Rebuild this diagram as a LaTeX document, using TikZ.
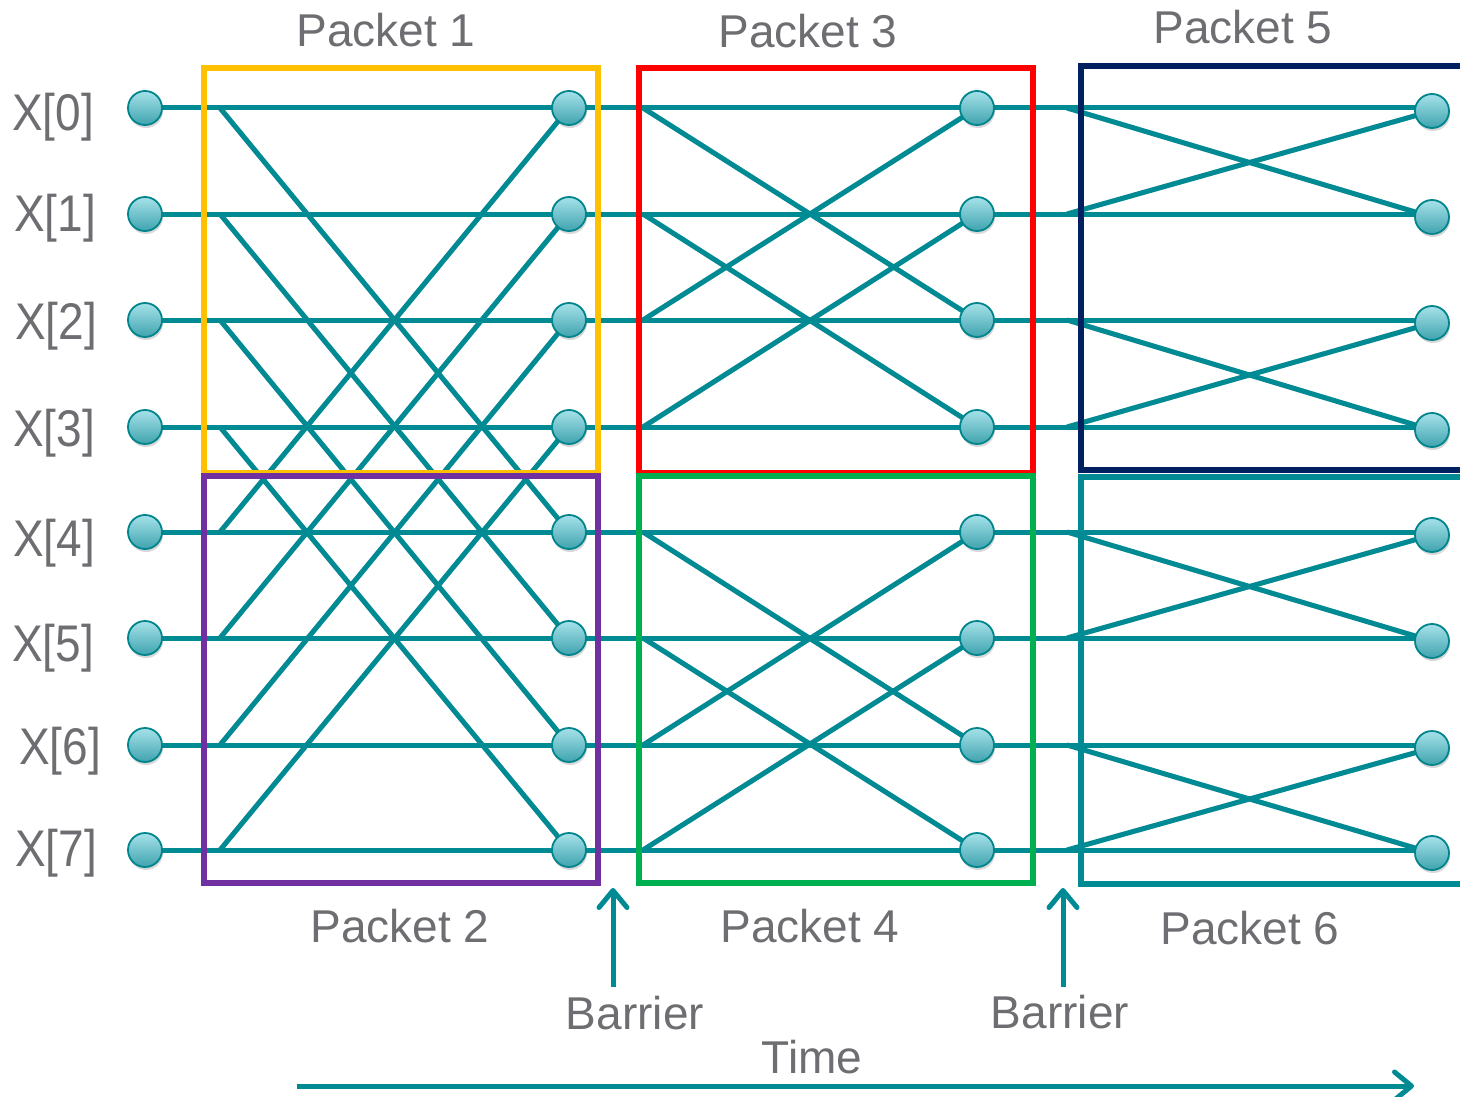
\documentclass[tikz,border=0pt]{standalone}
\usepackage{fontspec}
\setmainfont{Liberation Sans}
\usetikzlibrary{arrows.meta,shadows}
\pgfdeclarelayer{bg}
\pgfdeclarelayer{bgshadow}
\pgfsetlayers{bgshadow,bg,main}
\definecolor{tealc}{HTML}{008A93}
\definecolor{tealdk}{HTML}{00858D}
\definecolor{nodetop}{HTML}{A6E2EA}
\definecolor{nodebot}{HTML}{3FA3AE}
\definecolor{txtgray}{HTML}{6E6E72}
\definecolor{pk1}{HTML}{FFC000}
\definecolor{pk2}{HTML}{7030A0}
\definecolor{pk3}{HTML}{FF0000}
\definecolor{pk4}{HTML}{00B050}
\definecolor{pk5}{HTML}{002060}
\definecolor{pk6}{HTML}{008A93}
\begin{document}
\begin{tikzpicture}[x=1pt,y=-1pt,
  pt/.style={circle, minimum size=34pt, inner sep=0pt, draw=tealdk, line width=1.8pt,
    top color=nodetop, bottom color=nodebot,
    drop shadow={opacity=0.25, shadow xshift=1pt, shadow yshift=-3pt, fill=black!60}},
  wire/.style={draw=tealc, line width=5pt},
  wshadow/.style={draw=black, opacity=0.12, line width=5pt, yshift=-3pt},
  pbox/.style={line width=5.5pt},
  lbl/.style={text=txtgray, font=\fontsize{46}{50}\selectfont, inner sep=0pt, anchor=base},
  xlbl/.style={text=txtgray, font=\fontsize{46}{50}\selectfont, inner sep=0pt, anchor=base},
  tarrow/.style={draw=tealc, line width=5pt, -{Straight Barb[length=17pt,width=28pt,round]}}
]
\useasboundingbox (0,0) rectangle (1460,1097);
\begin{pgfonlayer}{bgshadow}
\fill[white] (0,0) rectangle (1460,1097);
\end{pgfonlayer}

% packet boxes
\draw[pbox, pk1] (204,68) rectangle (598,473);
\draw[pbox, pk2] (204,476) rectangle (598,883);
\draw[pbox, pk3] (639,68) rectangle (1033,473);
\draw[pbox, pk4] (639,476) rectangle (1033,883);
\draw[pbox, pk5] (1081,66) rectangle (1490,470);
\draw[pbox, pk6] (1081,477) rectangle (1490,884);

% nodes and start coordinates
\foreach \i/\y/\lx/\ly in {0/108/53/131,1/214/55/231,2/320/56/339,3/427/54/446,
                           4/532/54/556,5/638/53/661,6/745/60/764,7/850/56/866}{
  \node[pt] (L\i) at (145,\y) {};
  \node[pt] (A\i) at (569,\y) {};
  \node[pt] (B\i) at (977,\y) {};
  \node[pt] (C\i) at (1432,\y+3) {};
  \coordinate (s1\i) at (220,\y);
  \coordinate (s2\i) at (643,\y);
  \coordinate (s3\i) at (1067,\y);
  \node[xlbl] (X\i) at (\lx,\ly) {\scalebox{1}[1.12]{X[\i]}};
}

\foreach \ly/\sty in {bgshadow/wshadow, bg/wire}{
\begin{pgfonlayer}{\ly}
  \foreach \i in {0,...,7}{
    \draw[\sty] (L\i.center) -- (A\i.center) -- (B\i.center) -- (C\i.center |- L\i.center);
  }
  \foreach \i/\j in {0/4,1/5,2/6,3/7,4/0,5/1,6/2,7/3}{
    \draw[\sty] (s1\i) -- (A\j.center);
  }
  \foreach \i/\j in {0/2,1/3,2/0,3/1,4/6,5/7,6/4,7/5}{
    \draw[\sty] (s2\i) -- (B\j.center);
  }
  \foreach \i/\j in {0/1,1/0,2/3,3/2,4/5,5/4,6/7,7/6}{
    \draw[\sty] (s3\i) -- (C\j.center);
  }
\end{pgfonlayer}
}

% labels
\node[lbl] (p1) at (386,47) {Packet 1};
\node[lbl] (p3) at (808,48) {Packet 3};
\node[lbl] (p5) at (1243,44) {Packet 5};
\node[lbl] (p2) at (400,942) {Packet 2};
\node[lbl] (p4) at (810,942) {Packet 4};
\node[lbl] (p6) at (1250,944) {Packet 6};
\node[lbl] (b1) at (635,1029) {Barrier};
\node[lbl] (b2) at (1060,1028) {Barrier};
\node[lbl] (tm) at (812,1073) {Time};

% arrows
\coordinate (ba1) at (613,987);
\coordinate (ba1e) at (613,888);
\coordinate (ba2) at (1063,987);
\coordinate (ba2e) at (1063,888);
\coordinate (ts) at (297,1086);
\coordinate (te) at (1414,1086);
\draw[tarrow] (ba1) -- (ba1e);
\draw[tarrow] (ba2) -- (ba2e);
\draw[tarrow] (ts) -- (te);
\end{tikzpicture}
\end{document}
